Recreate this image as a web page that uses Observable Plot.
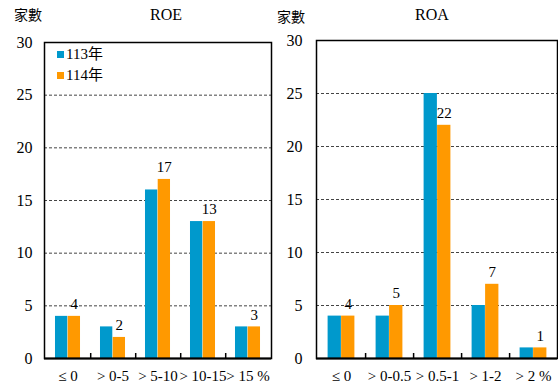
<!DOCTYPE html>
<html>
<head>
<meta charset="utf-8">
<script src="https://cdn.jsdelivr.net/npm/d3@7"></script>
<script src="https://cdn.jsdelivr.net/npm/@observablehq/plot@0.6"></script>
<style>
  body { margin: 0; background: #fff; }
  #wrap { position: relative; width: 558px; height: 385px; overflow: hidden; background: #fff;
          font-family: "Liberation Serif", "Noto Sans CJK TC", serif; color: #000; }
  .abs { position: absolute; white-space: nowrap; line-height: 1; }
  .panel { position: absolute; top: 0; }
  .sw { display: inline-block; width: 7px; height: 7px; margin-right: 2px; vertical-align: 1px; }
</style>
</head>
<body>
<div id="wrap"></div>
<script>
// ---- data ----
const seriesNames = ["113年", "114年"];
const seriesColors = ["#0099CC", "#FF9900"];
const yTicks = [0, 5, 10, 15, 20, 25, 30];
const gridTicks = [5, 10, 15, 20, 25];

const roeCategories = ["≤ 0", "> 0-5", "> 5-10", "> 10-15", "> 15 %"];
const roe113 = [4, 3, 16, 13, 3];
const roe114 = [4, 2, 17, 13, 3];

const roaCategories = ["≤ 0", "> 0-0.5", "> 0.5-1", "> 1-2", "> 2 %"];
const roa113 = [4, 4, 25, 5, 1];
const roa114 = [4, 5, 22, 7, 1];

const FONT = '"Liberation Serif", "Noto Sans CJK TC", serif';

function panel(cats, a, b, o) {
  const n = cats.length;
  const step = (o.width - o.ml - o.mr) / n;
  const w = step * 0.28;
  const outer = step * 0.22;
  const rows = cats.map((c, i) => ({cat: c, v1: a[i], v2: b[i]}));
  return Plot.plot({
    width: o.width, height: 385,
    marginLeft: o.ml, marginRight: o.mr, marginTop: o.mt, marginBottom: 27,
    style: {fontFamily: FONT, background: "transparent", overflow: "visible"},
    x: {type: "band", domain: cats, padding: 0, axis: null, label: null},
    y: {domain: [0, 30], axis: null, label: null},
    marks: [
      Plot.gridY(gridTicks, {stroke: "#444", strokeOpacity: 1, strokeWidth: 1, strokeDasharray: "3,2"}),
      Plot.barY(rows, {x: "cat", y: "v1", fill: seriesColors[0], insetLeft: outer, insetRight: step - outer - w}),
      Plot.barY(rows, {x: "cat", y: "v2", fill: seriesColors[1], insetLeft: outer + w, insetRight: outer}),
      Plot.text(rows, {x: "cat", y: "v2", text: d => String(d.v2), dx: w / 2, dy: -12, fontSize: 15, fill: "#000"}),
      Plot.frame({stroke: "#000", strokeWidth: 1.5}),
      Plot.ruleY([0], {stroke: "#000", strokeWidth: 2}),
      Plot.ruleX(cats.slice(0, -1), {x: d => d, dx: step / 2, y1: 0, y2: 0, insetTop: -5, stroke: "#000", strokeWidth: 1.5}),
      Plot.axisY(yTicks, {tickSize: 0, tickPadding: o.tp, fontSize: 16, fill: "#000", anchor: "left", label: null}),
      Plot.axisX({tickSize: 0, tickPadding: 12, fontSize: 15, fill: "#000", label: null})
    ]
  });
}

const wrap = document.getElementById("wrap");

const left = panel(roeCategories, roe113, roe114, {width: 279, ml: 44, mr: 8, mt: 42, tp: 12});
left.classList.add("panel"); left.style.left = "0px";
wrap.appendChild(left);

const right = panel(roaCategories, roa113, roa114, {width: 279, ml: 37, mr: 1, mt: 40, tp: 14});
right.classList.add("panel"); right.style.left = "279px";
wrap.appendChild(right);

function label(text, x, y, size, anchor) {
  const d = document.createElement("div");
  d.className = "abs";
  d.textContent = text;
  d.style.fontSize = size + "px";
  d.style.top = (y - size / 2) + "px";
  if (anchor === "middle") { d.style.left = x + "px"; d.style.transform = "translateX(-50%)"; }
  else d.style.left = x + "px";
  wrap.appendChild(d);
  return d;
}
label("家數", 14, 16, 14, "start");
label("ROE", 166, 15, 16, "middle");
label("家數", 277, 18, 14, "start");
label("ROA", 432, 15, 16, "middle");

// legend
seriesNames.forEach((s, i) => {
  const d = document.createElement("div");
  d.className = "abs";
  d.style.left = "57px";
  d.style.top = (47 + i * 21) + "px";
  d.style.fontSize = "15px";
  d.innerHTML = `<span class="sw" style="background:${seriesColors[i]}"></span>`;
  d.appendChild(document.createTextNode(s));
  wrap.appendChild(d);
});
</script>
</body>
</html>
